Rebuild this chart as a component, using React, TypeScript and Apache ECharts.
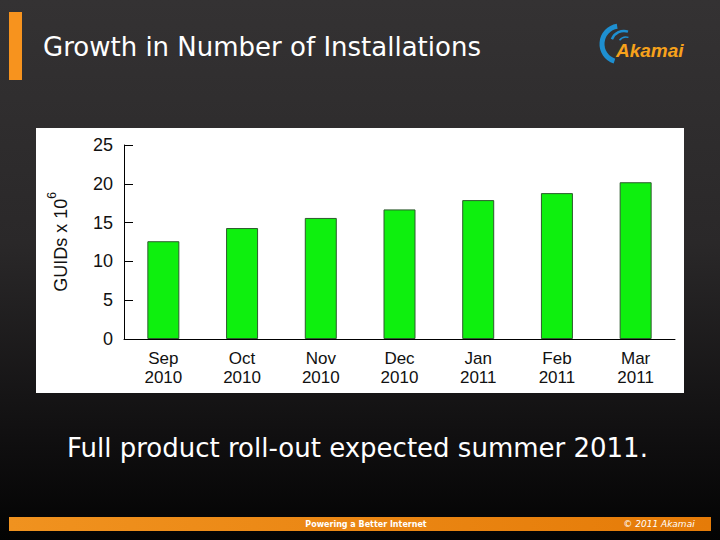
import React, { useEffect, useRef } from "react";
import * as echarts from "echarts";

const categories = ["Sep\n2010", "Oct\n2010", "Nov\n2010", "Dec\n2010", "Jan\n2011", "Feb\n2011", "Mar\n2011"];
const guids = [12.6, 14.3, 15.6, 16.7, 17.9, 18.8, 20.2];
const yTicks = { min: 0, max: 25, interval: 5 };
const titleText = "Growth in Number of Installations";
const subtitleText = "Full product roll-out expected summer 2011.";
const footerText = "Powering a Better Internet";
const copyrightText = "© 2011 Akamai";
const logoText = "Akamai";

export default function App() {
  const ref = useRef<HTMLDivElement>(null);
  useEffect(() => {
    if (!ref.current) return;
    const chart = echarts.init(ref.current, null, { renderer: "svg" });
    chart.setOption({
      animation: false,
      backgroundColor: {
        type: "linear", x: 0, y: 0, x2: 0, y2: 1,
        colorStops: [
          { offset: 0, color: "#343233" },
          { offset: 0.45, color: "#2a2829" },
          { offset: 0.8, color: "#111011" },
          { offset: 1, color: "#030303" },
        ],
      },
      graphic: [
        { type: "rect", z: -10, shape: { x: 36, y: 128, width: 648, height: 265 }, style: { fill: "#ffffff" } },
        { type: "rect", shape: { x: 9, y: 12, width: 13, height: 68 }, style: { fill: "#f7931e" } },
        { type: "text", x: 43, y: 47, style: { text: titleText, fill: "#ffffff", font: "26px 'DejaVu Sans'", textVerticalAlign: "middle" } },
        { type: "text", x: 67, y: 448, style: { text: subtitleText, fill: "#ffffff", font: "26px 'DejaVu Sans'", textVerticalAlign: "middle" } },
        {
          type: "rect",
          shape: { x: 9, y: 517, width: 702, height: 14 },
          style: {
            fill: { type: "linear", x: 0, y: 0, x2: 1, y2: 0, colorStops: [{ offset: 0, color: "#f0921f" }, { offset: 1, color: "#e57b08" }] },
          },
        },
        { type: "text", x: 366, y: 524, style: { text: footerText, fill: "#ffffff", font: "bold 8px 'DejaVu Sans'", textAlign: "center", textVerticalAlign: "middle" } },
        { type: "text", x: 659, y: 524, style: { text: copyrightText, fill: "#ffffff", font: "italic 9px 'DejaVu Sans'", textAlign: "center", textVerticalAlign: "middle" } },
        // Akamai logo swoosh
        { type: "arc", shape: { cx: 620, cy: 44, r: 18, startAngle: Math.PI * 0.6, endAngle: Math.PI * 1.45 }, style: { stroke: "#1e8fd0", lineWidth: 5, fill: null } },
        { type: "arc", shape: { cx: 624, cy: 44, r: 13, startAngle: Math.PI * 1.12, endAngle: Math.PI * 1.6 }, style: { stroke: "#1e8fd0", lineWidth: 2.5, fill: null } },
        { type: "arc", shape: { cx: 626, cy: 45, r: 8, startAngle: Math.PI * 1.2, endAngle: Math.PI * 1.6 }, style: { stroke: "#1e8fd0", lineWidth: 1.5, fill: null } },
        { type: "text", x: 616, y: 50, style: { text: logoText, fill: "#f7a21b", font: "italic bold 19px 'Liberation Sans'", textVerticalAlign: "middle" } },
      ],
      grid: { left: 124, right: 45, top: 145, bottom: 201 },
      xAxis: {
        type: "category",
        data: categories,
        axisLine: { lineStyle: { color: "#000000", width: 1 } },
        axisTick: { show: false },
        axisLabel: { color: "#111111", fontSize: 17, lineHeight: 19, margin: 10, fontFamily: "'Liberation Sans'" },
      },
      yAxis: {
        type: "value",
        min: yTicks.min,
        max: yTicks.max,
        interval: yTicks.interval,
        name: "{b|GUIDs x 10}{s|6}",
        nameLocation: "middle",
        nameGap: 54,
        nameRotate: 90,
        nameTextStyle: {
          rich: {
            b: { fontSize: 18, color: "#111111", fontFamily: "'Liberation Sans'", lineHeight: 24, verticalAlign: "bottom" },
            s: { fontSize: 12, color: "#111111", fontFamily: "'Liberation Sans'", lineHeight: 24, verticalAlign: "top" },
          },
        },
        splitLine: { show: false },
        axisLine: { show: true, lineStyle: { color: "#000000", width: 1 } },
        axisTick: { show: true, inside: true, length: 9, lineStyle: { color: "#000000" } },
        axisLabel: { color: "#111111", fontSize: 18, margin: 11, fontFamily: "'Liberation Sans'" },
      },
      series: [
        {
          type: "bar",
          data: guids,
          barWidth: 32,
          itemStyle: { color: "#0ef00e", borderColor: "#2d5a2d", borderWidth: 1 },
        },
      ],
    });
    return () => chart.dispose();
  }, []);
  return <div ref={ref} style={{ position: "fixed", left: 0, top: 0, width: 720, height: 540 }} />;
}
